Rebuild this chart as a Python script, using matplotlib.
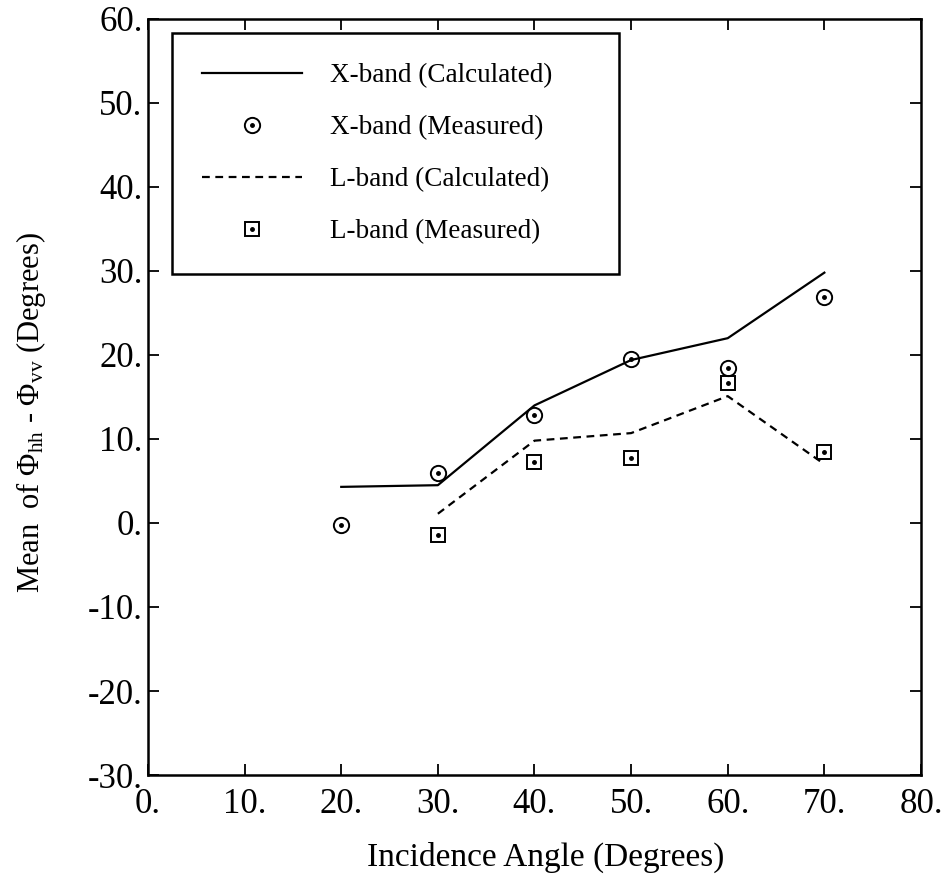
import numpy as np
import matplotlib.pyplot as plt
from matplotlib.legend_handler import HandlerTuple
from matplotlib.ticker import FuncFormatter, MultipleLocator

plt.rcParams['font.family'] = ['Liberation Serif', 'DejaVu Serif']
plt.rcParams['mathtext.fontset'] = 'custom'
plt.rcParams['mathtext.rm'] = 'Liberation Serif'
plt.rcParams['mathtext.it'] = 'Liberation Serif:italic'

# datos
ang_xc = [20, 30, 40, 50, 60, 70]
x_calc = [4.3, 4.5, 14.0, 19.4, 22.0, 29.8]
ang_xm = [20, 30, 40, 50, 60, 70]
x_meas = [-0.2, 6.0, 12.9, 19.5, 18.5, 26.9]
ang_lc = [30, 40, 50, 60, 70]
l_calc = [1.1, 9.8, 10.7, 15.1, 7.0]
ang_lm = [30, 40, 50, 60, 70]
l_meas = [-1.4, 7.3, 7.7, 16.7, 8.5]

fig = plt.figure(figsize=(9.53, 8.90), dpi=100)
ax = fig.add_axes([0.1553, 0.1292, 0.8111, 0.8495])

lx, = ax.plot(ang_xc, x_calc, color='black', lw=1.6)
cx, = ax.plot(ang_xm, x_meas, ls='none', marker='o', ms=11, mfc='none', mec='black', mew=1.4)
dx, = ax.plot(ang_xm, x_meas, ls='none', marker='o', ms=2.5, color='black')
ll, = ax.plot(ang_lc, l_calc, color='black', lw=1.6, dashes=(3.5, 2.5))
sl, = ax.plot(ang_lm, l_meas, ls='none', marker='s', ms=10, mfc='none', mec='black', mew=1.4)
dl, = ax.plot(ang_lm, l_meas, ls='none', marker='o', ms=2.5, color='black')

ax.set_xlim(0, 80)
ax.set_ylim(-30, 60)
ax.xaxis.set_major_locator(MultipleLocator(10))
ax.yaxis.set_major_locator(MultipleLocator(10))
fmt = FuncFormatter(lambda v, p: f"{int(round(v))}.")
ax.xaxis.set_major_formatter(fmt)
ax.yaxis.set_major_formatter(fmt)
ax.tick_params(direction='in', length=8, width=1.3, top=True, right=True, labelsize=25)
ax.tick_params(axis='x', pad=9)
ax.tick_params(axis='y', pad=4)
for s in ax.spines.values():
    s.set_linewidth(1.8)

ax.set_xlabel("Incidence Angle (Degrees)", fontsize=24)
ax.xaxis.set_label_coords(0.514, -0.088)
ax.set_ylabel(r"Mean  of $\Phi_{\mathrm{hh}}$ - $\Phi_{\mathrm{vv}}$ (Degrees)", fontsize=22)
ax.yaxis.set_label_coords(-0.129, 0.479)

leg = ax.legend([lx, (cx, dx), ll, (sl, dl)],
                ["X-band (Calculated)", "X-band (Measured)", "L-band (Calculated)", "L-band (Measured)"],
                handler_map={tuple: HandlerTuple(ndivide=1)}, numpoints=1,
                loc='upper left', bbox_to_anchor=(0.031, 0.671, 0.578, 0.310), mode='expand',
                borderaxespad=0, fontsize=19.5, handlelength=3.7, handletextpad=1.04,
                labelspacing=1.0, borderpad=1.1, fancybox=False, framealpha=1,
                edgecolor='black')
leg.get_frame().set_linewidth(1.8)

plt.savefig('out.png')
